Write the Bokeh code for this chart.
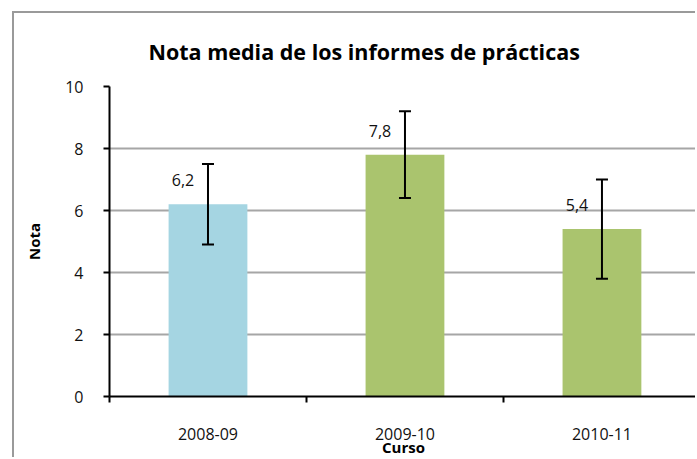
from bokeh.plotting import figure
from bokeh.models import Range1d, FixedTicker, ColumnDataSource, Whisker, TeeHead, Title
from bokeh.embed import file_html
from bokeh.resources import INLINE
from bokeh.core.properties import value

# ---- data ----
cursos = ["2008-09", "2009-10", "2010-11"]
nota_media = [6.2, 7.8, 5.4]
error = [1.3, 1.4, 1.6]
etiquetas = ["6,2", "7,8", "5,4"]
y_ticks = [0, 2, 4, 6, 8, 10]
colores = ["#A5D5E2", "#AAC46E", "#AAC46E"]

FONT = "Open Sans"

xs = [i + 0.5 for i in range(len(cursos))]
src = ColumnDataSource(dict(
    x=xs, top=nota_media,
    lower=[v - e for v, e in zip(nota_media, error)],
    upper=[v + e for v, e in zip(nota_media, error)],
    label=etiquetas, color=colores,
))

p = figure(width=683, height=446,
           x_range=Range1d(0, 2.985), y_range=Range1d(0, 10),
           output_backend="svg", toolbar_location=None,
           min_border_left=95, min_border_right=0,
           min_border_top=73, min_border_bottom=62)
p.outline_line_color = None
p.background_fill_color = "white"
p.border_fill_color = "white"
p.styles = {"border-left": "2px solid #9a9a9a", "border-top": "2px solid #9a9a9a",
            "margin-left": "12px", "margin-top": "11px"}

p.add_layout(Title(text="Nota media de los informes de prácticas", align="left",
                   offset=39, standoff=42, text_font=FONT, text_font_size="21.5px",
                   text_font_style="bold", text_color="#000000"), "above")

p.vbar(x="x", top="top", width=0.4, bottom=0, color="color", line_color=None, source=src)

w = Whisker(base="x", upper="upper", lower="lower", source=src,
            line_color="black", line_width=2, level="overlay",
            upper_head=TeeHead(size=12, line_width=2, line_color="black"),
            lower_head=TeeHead(size=12, line_width=2, line_color="black"))
p.add_layout(w)

p.text(x="x", y="top", text="label", source=src, x_offset=-25, y_offset=-24,
       text_align="center", text_baseline="middle", text_font=value(FONT),
       text_font_size="16px", text_color="#111111")

# y axis
p.yaxis.ticker = FixedTicker(ticks=y_ticks)
p.yaxis.axis_line_width = 2
p.yaxis.axis_line_color = "black"
p.yaxis.major_tick_line_width = 2
p.yaxis.major_tick_out = 6
p.yaxis.major_tick_in = 0
p.yaxis.minor_tick_line_color = None
p.yaxis.major_label_standoff = 20
p.yaxis.major_label_text_font = FONT
p.yaxis.major_label_text_font_size = "16px"
p.yaxis.major_label_text_color = "#111111"
p.yaxis.axis_label = "Nota"
p.yaxis.axis_label_text_font = FONT
p.yaxis.axis_label_text_font_size = "15px"
p.yaxis.axis_label_text_font_style = "bold"
p.yaxis.axis_label_text_color = "#000000"
p.yaxis.axis_label_standoff = 18

# x axis
p.xaxis.ticker = FixedTicker(ticks=xs, minor_ticks=list(range(len(cursos) + 1)))
p.xaxis.major_label_overrides = {x: c for x, c in zip(xs, cursos)}
p.xaxis.axis_line_width = 2
p.xaxis.axis_line_color = "black"
p.xaxis.major_tick_line_color = None
p.xaxis.major_tick_out = 0
p.xaxis.major_tick_in = 0
p.xaxis.minor_tick_line_color = "black"
p.xaxis.minor_tick_line_width = 2
p.xaxis.minor_tick_out = 6
p.xaxis.minor_tick_in = 0
p.xaxis.major_label_standoff = 25
p.xaxis.major_label_text_font = FONT
p.xaxis.major_label_text_font_size = "16px"
p.xaxis.major_label_text_color = "#111111"
p.xaxis.axis_label = "Curso"
p.xaxis.axis_label_text_font = FONT
p.xaxis.axis_label_text_font_size = "15px"
p.xaxis.axis_label_text_font_style = "bold"
p.xaxis.axis_label_text_color = "#000000"
p.xaxis.axis_label_standoff = -6

p.xgrid.grid_line_color = None
p.ygrid.ticker = FixedTicker(ticks=y_ticks)
p.ygrid.grid_line_color = "#a6a6a6"
p.ygrid.grid_line_width = 2

open("out.html", "w").write(file_html(p, INLINE))
